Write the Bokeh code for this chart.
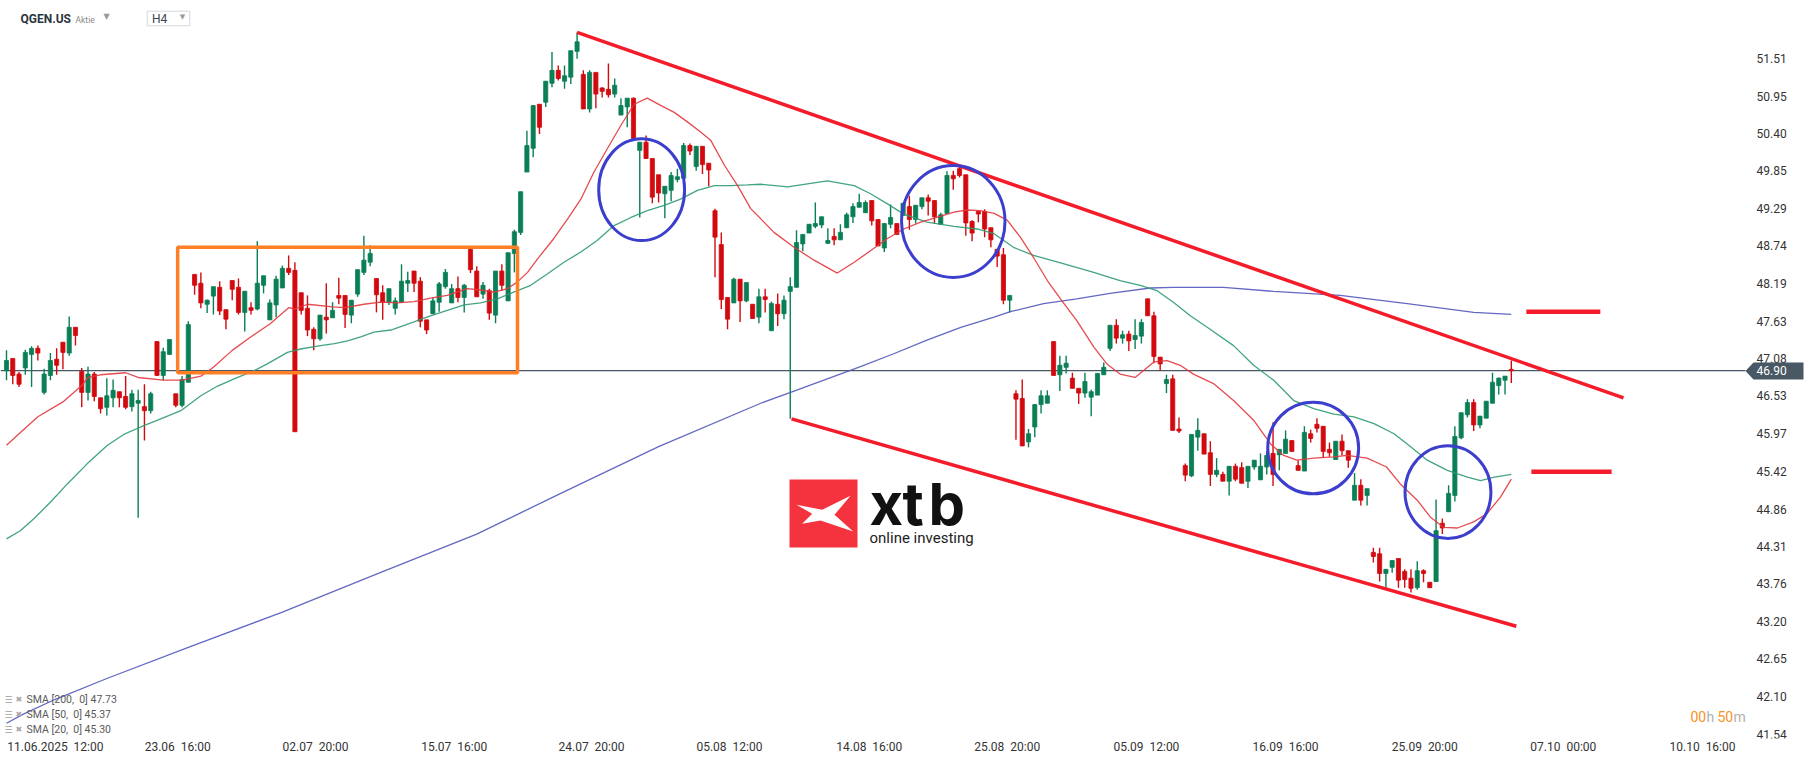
import numpy as np
from bokeh.plotting import figure
from bokeh.models import Range1d, FixedTicker, Label, ColumnDataSource, PolyAnnotation
from bokeh.embed import file_html
from bokeh.resources import INLINE

# ---------------- data (H4 candles, QGEN.US) ----------------
open_p = [
46.90, 47.08, 46.85, 46.94, 47.14, 47.23, 46.58, 46.83, 47.07, 47.32,
47.16, 47.54, 46.89, 46.58, 46.85, 46.50, 46.36, 46.50, 46.59, 46.52,
46.37, 46.42, 46.37, 46.31, 47.33, 46.83, 47.14, 46.56, 46.39, 46.73,
48.32, 48.19, 47.88, 48.00, 48.13, 47.80, 48.23, 48.13, 47.76, 47.83,
47.81, 48.16, 47.65, 47.87, 48.12, 48.41, 48.38, 48.05, 47.82, 47.51,
47.37, 47.69, 47.68, 48.01, 48.01, 47.72, 48.03, 48.35, 48.50, 48.26,
48.05, 47.91, 47.82, 47.91, 48.19, 48.37, 48.22, 47.65, 47.74, 47.91,
48.14, 47.90, 48.11, 47.98, 48.69, 48.37, 48.03, 48.08, 47.72, 48.37,
47.93, 48.63, 48.94, 49.83, 50.18, 50.83, 50.86, 51.14, 51.33, 51.17,
51.23, 51.61, 51.27, 50.76, 51.30, 51.07, 51.05, 50.98, 50.67, 50.79,
50.92, 50.15, 50.27, 50.03, 49.79, 49.51, 49.56, 49.72, 49.74, 50.22,
49.91, 50.21, 49.96, 49.26, 48.76, 47.98, 47.90, 48.25, 47.93, 47.88,
47.69, 47.99, 47.49, 47.88, 47.74, 48.07, 48.13, 48.77, 48.93, 49.03,
49.05, 48.78, 48.88, 48.83, 49.01, 49.17, 49.31, 49.23, 49.41, 49.13,
48.71, 49.06, 49.07, 49.19, 49.32, 49.13, 49.32, 49.45, 49.41, 49.06,
49.22, 49.78, 49.88, 49.79, 49.10, 49.25, 49.25, 49.01, 48.69, 48.61,
47.94, 46.56, 46.49, 45.85, 46.07, 46.40, 46.42, 47.33, 46.84, 46.95,
46.79, 46.64, 46.57, 46.51, 46.54, 46.84, 47.23, 47.57, 47.38, 47.44,
47.36, 47.41, 47.96, 47.71, 47.10, 46.71, 46.78, 46.04, 45.50, 45.35,
45.92, 45.97, 45.69, 45.37, 45.37, 45.27, 45.49, 45.47, 45.27, 45.48,
45.29, 45.48, 45.68, 45.66, 45.68, 45.87, 45.50, 45.42, 45.97, 46.11,
46.08, 45.74, 45.59, 45.86, 45.72, 44.99, 45.21, 45.06, 44.22, 44.20,
43.91, 44.00, 44.13, 43.94, 43.84, 43.70, 43.95, 43.78, 43.79, 44.65,
44.82, 45.06, 45.91, 46.25, 46.43, 46.10, 46.20, 46.42, 46.68, 46.76,
46.92]

high_p = [
47.20, 47.08, 46.88, 47.21, 47.26, 47.27, 46.93, 47.16, 47.23, 47.32,
47.70, 47.54, 46.94, 46.96, 46.88, 46.50, 46.79, 46.77, 46.59, 46.82,
46.62, 46.62, 46.70, 46.59, 47.33, 47.24, 47.36, 46.56, 46.82, 47.63,
48.32, 48.35, 47.95, 48.14, 48.22, 47.80, 48.23, 48.26, 48.08, 47.91,
48.81, 48.30, 47.95, 48.30, 48.45, 48.60, 48.50, 48.05, 48.01, 47.54,
47.72, 48.19, 47.91, 48.27, 48.01, 47.94, 48.39, 48.89, 48.75, 48.26,
48.16, 48.11, 47.98, 48.47, 48.36, 48.37, 48.28, 47.65, 47.98, 48.21,
48.40, 48.18, 48.29, 48.18, 48.69, 48.44, 48.21, 48.11, 48.37, 48.47,
48.64, 48.98, 49.54, 50.44, 50.81, 50.83, 51.17, 51.60, 51.40, 51.40,
51.62, 51.89, 51.33, 51.33, 51.30, 51.08, 51.43, 51.21, 50.92, 50.92,
50.93, 50.27, 50.37, 50.03, 49.79, 49.62, 49.83, 49.88, 50.26, 50.25,
50.21, 50.21, 49.96, 49.29, 48.94, 47.98, 48.27, 48.25, 48.20, 47.88,
48.11, 48.11, 47.92, 48.04, 48.01, 48.28, 48.97, 48.91, 49.06, 49.38,
49.17, 49.00, 49.00, 49.06, 49.23, 49.37, 49.51, 49.41, 49.41, 49.13,
49.07, 49.35, 49.07, 49.37, 49.48, 49.34, 49.45, 49.50, 49.41, 49.23,
49.84, 49.85, 49.91, 49.79, 49.12, 49.26, 49.28, 49.01, 48.69, 48.71,
48.01, 46.61, 46.77, 46.04, 46.40, 46.61, 46.61, 47.33, 47.12, 47.12,
46.87, 46.64, 46.87, 46.62, 46.86, 47.02, 47.57, 47.66, 47.49, 47.49,
47.66, 47.66, 47.96, 47.77, 47.10, 46.84, 46.84, 46.21, 45.53, 45.96,
46.20, 45.97, 45.86, 45.61, 45.41, 45.49, 45.53, 45.55, 45.49, 45.58,
45.68, 45.72, 46.14, 45.74, 46.02, 45.87, 45.58, 46.08, 46.03, 46.20,
46.08, 45.84, 45.86, 45.96, 45.72, 45.39, 45.30, 45.16, 44.29, 44.29,
43.97, 44.10, 44.13, 43.97, 43.97, 44.09, 43.97, 43.78, 45.00, 44.72,
45.21, 46.08, 46.28, 46.48, 46.48, 46.23, 46.45, 46.87, 46.80, 46.82,
47.05]

low_p = [
46.76, 46.70, 46.66, 46.84, 46.66, 47.05, 46.55, 46.76, 46.84, 46.92,
47.12, 47.27, 46.36, 46.46, 46.45, 46.27, 46.24, 46.36, 46.36, 46.33,
46.30, 44.73, 45.87, 46.27, 46.83, 46.76, 47.14, 46.36, 46.36, 46.73,
48.02, 47.82, 47.75, 47.73, 47.72, 47.51, 47.94, 47.73, 47.48, 47.73,
47.79, 48.04, 47.65, 47.69, 48.12, 48.31, 46.00, 47.73, 47.41, 47.20,
47.34, 47.45, 47.68, 47.88, 47.53, 47.60, 47.99, 48.31, 48.44, 47.76,
47.65, 47.87, 47.73, 47.91, 48.06, 48.06, 47.54, 47.44, 47.74, 47.77,
48.11, 47.90, 47.91, 47.76, 48.34, 47.99, 47.96, 47.65, 47.60, 48.08,
47.93, 48.35, 48.90, 49.83, 50.05, 50.39, 50.79, 51.08, 51.18, 51.06,
51.13, 51.50, 50.76, 50.71, 50.77, 50.93, 50.93, 50.93, 50.67, 50.49,
50.32, 49.16, 50.03, 49.37, 49.38, 49.15, 49.40, 49.68, 49.74, 50.08,
49.85, 49.80, 49.62, 48.28, 47.81, 47.51, 47.90, 47.62, 47.91, 47.67,
47.60, 47.76, 47.49, 47.56, 47.66, 46.19, 48.13, 48.66, 48.93, 49.00,
49.00, 48.77, 48.75, 48.83, 49.00, 49.08, 49.31, 49.23, 49.04, 48.74,
48.65, 49.00, 48.91, 49.19, 48.98, 49.07, 49.28, 49.19, 49.07, 49.06,
49.22, 49.57, 49.75, 48.89, 48.81, 49.09, 48.87, 48.72, 48.43, 47.88,
47.76, 45.88, 45.79, 45.77, 45.92, 46.27, 46.42, 46.83, 46.60, 46.86,
46.64, 46.41, 46.50, 46.23, 46.54, 46.84, 47.19, 47.30, 47.30, 47.19,
47.22, 47.30, 47.71, 47.01, 46.90, 46.57, 46.02, 45.98, 45.27, 45.33,
45.72, 45.67, 45.20, 45.33, 45.27, 45.06, 45.27, 45.24, 45.17, 45.44,
45.29, 45.37, 45.20, 45.43, 45.68, 45.71, 45.43, 45.42, 45.84, 45.99,
45.62, 45.63, 45.59, 45.65, 45.47, 44.99, 44.91, 44.91, 44.07, 43.79,
43.70, 43.92, 43.70, 43.70, 43.63, 43.67, 43.78, 43.70, 43.79, 44.49,
44.82, 44.97, 45.89, 46.21, 46.01, 46.05, 46.20, 46.42, 46.55, 46.55,
46.72]

close_p = [
47.05, 46.83, 46.70, 47.17, 47.23, 47.16, 46.85, 47.05, 46.98, 47.17,
47.54, 47.42, 46.58, 46.85, 46.52, 46.34, 46.53, 46.61, 46.50, 46.36,
46.56, 46.46, 46.31, 46.56, 46.83, 47.18, 47.36, 46.39, 46.77, 47.58,
48.16, 47.90, 47.94, 48.14, 47.78, 47.66, 48.10, 47.76, 48.07, 47.79,
48.19, 48.30, 47.90, 48.25, 48.41, 48.35, 46.00, 47.79, 47.50, 47.37,
47.72, 47.65, 47.79, 47.97, 47.73, 47.94, 48.39, 48.53, 48.63, 48.02,
47.91, 48.11, 47.93, 48.22, 48.23, 48.19, 47.63, 47.50, 47.93, 48.18,
48.35, 48.11, 47.98, 48.16, 48.39, 47.99, 48.16, 47.75, 48.37, 48.16,
48.64, 48.95, 49.54, 50.22, 50.81, 50.49, 51.17, 51.33, 51.21, 51.25,
51.62, 51.75, 50.76, 51.30, 50.98, 51.02, 50.97, 51.11, 50.81, 50.92,
50.32, 50.27, 50.03, 49.46, 49.52, 49.62, 49.78, 49.76, 50.22, 50.14,
50.21, 49.94, 49.86, 48.87, 47.95, 47.66, 48.25, 47.93, 48.20, 47.67,
47.99, 47.95, 47.89, 47.74, 47.94, 48.14, 48.79, 48.91, 49.06, 49.07,
49.17, 48.82, 48.83, 48.94, 49.20, 49.32, 49.38, 49.38, 49.11, 48.74,
49.07, 49.16, 48.91, 49.37, 49.13, 49.34, 49.45, 49.40, 49.17, 49.20,
49.78, 49.73, 49.78, 49.08, 48.93, 49.21, 48.99, 48.83, 48.59, 47.94,
48.01, 46.48, 45.79, 45.97, 46.40, 46.53, 46.53, 46.83, 46.98, 47.01,
46.64, 46.57, 46.74, 46.59, 46.86, 46.95, 47.57, 47.38, 47.43, 47.34,
47.42, 47.61, 47.71, 47.11, 47.00, 46.77, 46.02, 46.01, 45.36, 45.96,
46.02, 45.67, 45.37, 45.43, 45.27, 45.49, 45.30, 45.24, 45.49, 45.58,
45.49, 45.65, 45.37, 45.74, 45.89, 45.71, 45.43, 45.99, 45.90, 46.05,
45.71, 45.69, 45.86, 45.72, 45.58, 45.21, 44.99, 45.16, 44.16, 43.91,
43.97, 44.10, 43.81, 43.82, 43.69, 43.95, 43.91, 43.70, 44.54, 44.58,
45.09, 45.93, 46.28, 46.43, 46.10, 46.23, 46.45, 46.73, 46.79, 46.82,
46.90]

# moving averages (bar index, value)
sma20_idx = [1, 3, 6, 10, 13, 14, 16, 20, 22, 26, 29, 32, 34, 37, 40, 43, 46, 47, 49, 53, 55, 58,
             60.7, 63.3, 66, 68.6, 71.3, 74.5, 76.6, 78.8, 80.9, 82.5, 84.1, 85.7, 88.3, 90.5, 92.6,
             94.7, 96.8, 99, 101.1, 103.2, 105.4, 107.5, 109.6, 111.7, 113.3, 115.5, 117.6, 119.7,
             121.3, 123.4, 126.6, 129.8, 133.5, 136.2, 138.8, 141.5, 144.1, 146.8, 149.4, 152.1,
             154.2, 156.3, 158.5, 160.6, 162.7, 164.8, 167, 169.1, 171.7, 174.4, 176.5, 178.6, 181,
             184, 186.1, 188.2, 190.3, 193.5, 196.7, 199.9, 202.6, 204.7, 206.8, 209.5, 212.7,
             214.8, 218, 221.1, 223.3, 226, 228.1, 230.2, 232.4, 235, 237.1, 239.3, 241]
sma20_val = [45.80, 45.97, 46.22, 46.44, 46.68, 46.80, 46.84, 46.87, 46.80, 46.76, 46.76, 46.82, 46.95,
             47.20, 47.40, 47.59, 47.83, 47.81, 47.88, 47.84, 47.83, 47.88,
             47.91, 47.90, 47.92, 47.97, 48.01, 48.11, 48.09, 48.06, 48.11, 48.21, 48.35, 48.55, 48.85,
             49.14, 49.43, 49.83, 50.17, 50.52, 50.83, 50.92, 50.81, 50.71, 50.57, 50.42, 50.30,
             49.93, 49.63, 49.29, 49.14, 48.94, 48.72, 48.53, 48.34, 48.50, 48.67, 48.85, 48.99,
             49.09, 49.16, 49.24, 49.27, 49.26, 49.22, 49.12, 48.87, 48.57, 48.23, 47.96, 47.64,
             47.25, 47.00, 46.85, 46.80, 47.03, 47.05, 46.98, 46.85, 46.71, 46.46, 46.17, 45.82,
             45.65, 45.58, 45.61, 45.63, 45.65, 45.61, 45.48, 45.23, 44.99, 44.74, 44.59, 44.58,
             44.67, 44.79, 45.04, 45.30]

sma50_idx = [1, 3.2, 5.4, 8, 10.7, 13.9, 17.1, 19.7, 22.4, 25.6, 28.8, 32, 34.6, 37.3, 40.5, 42.6,
             45.8, 47.9, 51.1, 53.3, 55.4, 57.5, 59.6, 62.3, 66, 68.6, 71.3, 74, 76.6, 79.3, 81.9,
             84.6, 87.3, 89.9, 92.6, 95.2, 97.9, 100.6, 103.2, 105.9, 108.5, 111.2, 113.9, 116.5,
             119.2, 121.3, 125.6, 131.9, 136.2, 138.8, 141.5, 144.1, 147.8, 152.1, 155.8, 158.5,
             161.6, 164.8, 169.1, 174.4, 178.6, 181.8, 184.5, 187.1, 189.8, 192.5, 196.7, 199.9,
             203.1, 206.3, 209.5, 212.7, 215.9, 219.1, 222.3, 224.4, 227.6, 230.8, 234, 236.1,
             238.3, 241]
sma50_val = [44.42, 44.54, 44.72, 44.96, 45.23, 45.53, 45.80, 45.96, 46.07, 46.19, 46.31, 46.53, 46.67,
             46.78, 46.90, 47.00, 47.17, 47.22, 47.27, 47.30, 47.34, 47.40, 47.47, 47.50, 47.62,
             47.71, 47.79, 47.87, 47.90, 47.96, 48.06, 48.16, 48.33, 48.50, 48.65, 48.82, 49.04,
             49.16, 49.26, 49.34, 49.43, 49.56, 49.63, 49.63, 49.64, 49.65, 49.61, 49.70, 49.63,
             49.51, 49.36, 49.21, 49.09, 49.03, 48.99, 48.92, 48.72, 48.60, 48.49, 48.35, 48.23,
             48.16, 48.08, 47.91, 47.71, 47.54, 47.27, 46.98, 46.76, 46.46, 46.34, 46.26, 46.22,
             46.12, 45.97, 45.82, 45.58, 45.43, 45.33, 45.28, 45.33, 45.37]

sma200_idx = [1, 3.6, 8.7, 17, 30, 45, 60, 76, 89.4, 105, 121.3, 126.6, 131.9, 137.2, 142.5, 147.8,
              153.2, 158.5, 161.1, 166.4, 171.7, 177, 183.4, 187.1, 195.1, 203.1, 213.7, 224.4, 235, 241]
sma200_val = [41.70, 41.83, 42.05, 42.36, 42.82, 43.34, 43.90, 44.49, 45.09, 45.78, 46.42, 46.60,
              46.78, 46.96, 47.15, 47.35, 47.54, 47.69, 47.77, 47.89, 47.96, 48.04, 48.12, 48.13,
              48.13, 48.07, 48.01, 47.89, 47.76, 47.73]

price_ticks = [41.54, 42.10, 42.65, 43.20, 43.76, 44.31, 44.86, 45.42, 45.97, 46.53,
               47.08, 47.63, 48.19, 48.74, 49.29, 49.85, 50.40, 50.95, 51.51]
time_tick_idx = [8.8, 28.3, 50.3, 72.4, 94.3, 116.3, 138.6, 160.6, 182.8, 205.0, 227.2, 249.3, 271.5]
time_tick_labels = ["11.06.2025\u00a0 12:00", "23.06\u00a0 16:00", "02.07\u00a0 20:00", "15.07\u00a0 16:00",
                    "24.07\u00a0 20:00", "05.08\u00a0 12:00", "14.08\u00a0 16:00", "25.08\u00a0 20:00",
                    "05.09\u00a0 12:00", "16.09\u00a0 16:00", "25.09\u00a0 20:00", "07.10\u00a0 00:00",
                    "10.10\u00a0 16:00"]
last_price = 46.90
sma_legend = ["SMA [200,\u00a0 0] 47.73", "SMA [50,\u00a0 0] 45.37", "SMA [20,\u00a0 0] 45.30"]

# analyst drawings (bar index, price)
upper_channel = ([92, 258.9], [51.89, 46.50])
lower_channel = ([126.2, 241.8], [46.19, 43.13])
box_range = (28.3, 82.5, 46.87, 48.72)          # left, right, bottom, top
circles = [(102.3, 49.57, 13.7, 1.50), (152.0, 49.10, 16.5, 1.65),
           (209.4, 45.76, 14.5, 1.35), (230.9, 45.11, 13.7, 1.37)]
level_marks = [((243.4, 255.2), 47.77), ((244.2, 257.0), 45.41)]

# ---------------- layout ----------------
FW, FH = 1812, 738
PX_PER_BAR = 6.27
FIRST_BAR_PX = 6.0
X0 = 1 - FIRST_BAR_PX / PX_PER_BAR
X1 = X0 + FW / PX_PER_BAR
PX_PER_UNIT = 67.8
Y1 = last_price + 370.2 / PX_PER_UNIT
Y0 = Y1 - FH / PX_PER_UNIT


def dx(px):
    return X0 + px / PX_PER_BAR


def dy(py):
    return Y1 - py / PX_PER_UNIT


GREEN = "#0a7f56"
RED = "#d20a0f"
FONT = "Roboto"

p = figure(frame_width=FW, frame_height=FH, x_range=Range1d(X0, X1), y_range=Range1d(Y0, Y1),
           output_backend="svg", toolbar_location=None, y_axis_location=None,
           min_border_left=0, min_border_top=0, min_border_right=0, min_border_bottom=0,
           background_fill_color="white", border_fill_color="white", outline_line_color=None)
p.grid.visible = False

ax = p.xaxis[0]
ax.axis_line_color = None
ax.major_tick_line_color = None
ax.minor_tick_line_color = None
ax.major_label_text_font = FONT
ax.major_label_text_font_size = "12px"
ax.major_label_text_color = "#333333"
ax.ticker = FixedTicker(ticks=time_tick_idx)
ax.major_label_overrides = {k: v for k, v in zip(time_tick_idx, time_tick_labels)}
ax.major_label_standoff = -5

# price line (ends at the price tag)
p.line([X0, dx(1745)], [last_price, last_price], line_color="#4a5866", line_width=1.2)

# candles
o = np.array(open_p); h = np.array(high_p); l = np.array(low_p); c = np.array(close_p)
idx = np.arange(1, len(c) + 1)
cols = np.where(c >= o, GREEN, RED)
src = ColumnDataSource(dict(x=idx, h=h, l=l, top=np.maximum(o, c), bot=np.minimum(o, c), col=cols))
p.segment(x0="x", y0="l", x1="x", y1="h", line_color="col", line_width=1.4, source=src)
p.vbar(x="x", width=0.66, top="top", bottom="bot", fill_color="col", line_color="col",
       line_width=0.8, source=src)

# moving averages
p.line(sma200_idx, sma200_val, line_color="#5258bb", line_width=1.3, line_alpha=0.9)
p.line(sma50_idx, sma50_val, line_color="#2e9a72", line_width=1.3, line_alpha=0.9)
p.line(sma20_idx, sma20_val, line_color="#e3373d", line_width=1.3, line_alpha=0.9)

# drawings
p.quad(left=box_range[0], right=box_range[1], bottom=box_range[2], top=box_range[3],
       fill_color=None, line_color="#ff7f27", line_width=3.5)
p.line(upper_channel[0], upper_channel[1], line_color="#f41c2a", line_width=3.5)
p.line(lower_channel[0], lower_channel[1], line_color="#f41c2a", line_width=3.5)
for (xs, yv) in level_marks:
    p.line(list(xs), [yv, yv], line_color="#f41c2a", line_width=4.5)
p.ellipse(x=[cc[0] for cc in circles], y=[cc[1] for cc in circles],
          width=[cc[2] for cc in circles], height=[cc[3] for cc in circles],
          fill_color=None, line_color="#3c3fcd", line_width=3)

# logo
p.quad(left=dx(789), right=dx(857), top=dy(479), bottom=dy(547), fill_color="#f5333f", line_color=None)
logo_x = [796, 821.7, 850, 834, 852.7, 820, 801.7, 811.7]
logo_y = [504.3, 509.3, 495.3, 514.3, 531, 520, 523.3, 513.3]
p.patch([dx(v) for v in logo_x], [dy(v) for v in logo_y], fill_color="white", line_color=None)


def lab(px, py, text, size, color, bold=False, align="left", font=FONT, baseline="middle", **kw):
    p.add_layout(Label(x=dx(px), y=dy(py), text=text, text_font=font, text_font_size=f"{size}px",
                       text_color=color, text_font_style="bold" if bold else "normal",
                       text_align=align, text_baseline=baseline, **kw))


lab(869, 503, "x", 58, "#111111", bold=True, font="Inter")
lab(902, 503, "t", 58, "#111111", bold=True, font="Inter")
lab(928, 503, "b", 58, "#111111", bold=True, font="Inter")
lab(869, 537, "online investing", 15, "#222222")

# header
lab(20, 18.5, "QGEN.US", 12, "#2b3640", bold=True)
lab(75, 19.5, "Aktie", 8.5, "#8a8a8a")
lab(106, 15.5, "\u25bc", 8, "#9a9a9a", align="center", font="DejaVu Sans")
p.quad(left=dx(146.7), right=dx(189.3), top=dy(10.7), bottom=dy(25.3), fill_color="white",
       line_color="#d5d9dd", line_width=1)
lab(151.5, 18.5, "H4", 12, "#3a4550")
lab(182, 16.5, "\u25bc", 7, "#9a9a9a", align="center", font="DejaVu Sans")

# SMA legend (bottom-left)
for txt, yy in zip(sma_legend, [699, 714, 729]):
    lab(4, yy, "\u2630", 9, "#a0a0a0", font="DejaVu Sans")
    lab(15, yy, "\u2716", 8, "#a8a8a8", font="DejaVu Sans")
    lab(26, yy, txt, 10.5, "#5a5a5a")

# timer
lab(1690, 716, "00", 14, "#f7931e")
lab(1706, 716, "h", 14, "#b0b0b0")
lab(1717, 716, "50", 14, "#f7931e")
lab(1733, 716, "m", 14, "#b0b0b0")

# price scale (right side)
for t in price_ticks:
    p.add_layout(Label(x=dx(1756), y=t, text=f"{t:.2f}", text_font=FONT, text_font_size="12px",
                       text_color="#333333", text_align="left", text_baseline="middle"))

# current price tag
tag_x = [1745, 1753, 1803, 1803, 1753]
tag_y = [370.4, 362, 362, 379, 379]
p.add_layout(PolyAnnotation(xs=[dx(v) for v in tag_x], ys=[dy(v) for v in tag_y],
                            fill_color="#485864", fill_alpha=1.0, line_color=None))
p.add_layout(Label(x=dx(1756), y=last_price, text=f"{last_price:.2f}", text_font=FONT,
                   text_font_size="12px", text_color="white", text_align="left",
                   text_baseline="middle"))

open("out.html", "w").write(file_html(p, INLINE))
